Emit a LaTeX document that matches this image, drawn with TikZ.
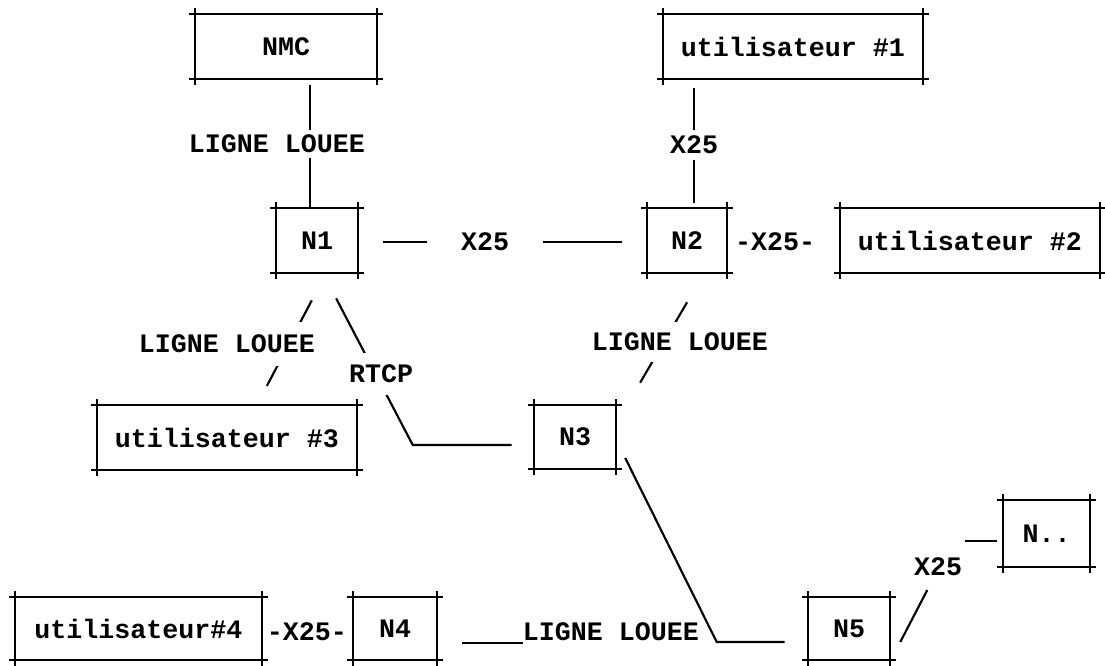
\documentclass[tikz,border=0pt]{standalone}
\usepackage{fontspec}
\setmonofont{Liberation Mono}
\usetikzlibrary{calc}

\begin{document}
\begin{tikzpicture}[x=0.75pt, y=-0.75pt,
    font=\fontsize{20}{24}\selectfont\ttfamily\bfseries,
    frame/.style={line width=2.2pt},
    link/.style={line width=1.6pt},
    gap/.style={fill=white, inner xsep=1pt, inner ysep=0pt}]
  \useasboundingbox (0,0) rectangle (1105,665);
  % box with crossed corners: name, left, top, right, bottom, text
  \newcommand{\tbox}[6]{%
    \draw[frame] (#2-6,#3) -- (#4+6,#3) (#2-6,#5) -- (#4+6,#5)
                 (#2,#3-6) -- (#2,#5+6) (#4,#3-6) -- (#4,#5+6);
    \node[inner sep=0pt, minimum width={(#4-#2)*0.75pt},
          minimum height={(#5-#3)*0.75pt}] (#1) at ({(#2+#4)/2},{(#3+#5)/2}) {#6};}
  \tbox{nmc}{195}{14}{377}{79}{NMC}
  \tbox{ua}{663}{14}{923}{79}{utilisateur \#1}
  \tbox{n1}{276}{208}{358}{273}{N1}
  \tbox{n2}{647}{208}{727}{273}{N2}
  \tbox{ub}{840}{208}{1100}{273}{utilisateur \#2}
  \tbox{uc}{97}{405}{357}{470}{utilisateur \#3}
  \tbox{n3}{534}{405}{616}{469}{N3}
  \tbox{nx}{1003}{500}{1090}{567}{N..}
  \tbox{ud}{15}{597}{262}{660}{utilisateur\#4}
  \tbox{n4}{353}{597}{437}{660}{N4}
  \tbox{n5}{808}{597}{890}{660}{N5}

  % labels
  \node[inner sep=0pt, minimum height=21pt] (lnmc) at (277,144) {LIGNE LOUEE};
  \node[inner sep=0pt, minimum height=22.5pt] (lua) at (694,145) {X25};
  \node[inner sep=0pt, minimum width=87pt] (ln12) at (485,242) {X25};
  \node (lub) at (775,242) {-X25-};
  \node (lud) at (307,632) {-X25-};
  \node[inner sep=0pt] (ln45) at (611,632) {LIGNE LOUEE};
  \node (lnx) at (938,567) {X25};

  % straight links
  \coordinate (va) at ($(n1.north)+(-7,0)$);
  \draw[link, shorten <=4.5pt] (va |- nmc.south) -- (va |- lnmc.north);
  \draw[link] (va |- lnmc.south) -- (va);
  \draw[link, shorten <=6.75pt] (lua |- ua.south) -- (lua.north);
  \draw[link, shorten >=3.75pt] (lua.south) -- (lua |- n2.north);
  \draw[link, shorten <=18.75pt] (n1.east |- ln12) -- (ln12.west);
  \draw[link, shorten >=18.75pt] (ln12.east) -- (n2.west |- ln12);
  \draw[link, shorten <=18.75pt] ($(n4.east |- ln45.south)+(0,2)$) -- ($(ln45.south west)+(0,2)$);

  % slanted links, cut by the labels laid over them
  \draw[link, shorten <=22.9pt, shorten >=16pt] ($(n1.south)+(9,0)$) -- ($(uc.north)+(30,0)$);
  \draw[link, shorten <=21.2pt, shorten >=16.5pt] ($(n1.south)+(6,0)$)
    -- ($(n3.west)+(-121,8)$) -- ($(n3.west)+(0,8)$);
  \draw[link, shorten <=25.2pt, shorten >=19.1pt] ($(n2.south)+(17,0)$) -- ($(n3.north east)+(11,0)$);
  \draw[link, shorten <=15pt, shorten >=17.25pt] ($(n3.east)+(0,3)$)
    -- ($(n5.west)+(-91,13.5)$) -- ($(n5.west)+(0,13.5)$);
  \draw[link] ($(n5.east)+(10,13.5)$) -- ($(n5.east)+(37,-38.5)$);
  \draw[link, shorten >=4.5pt] ($(nx.west)+(-38,7.5)$) -- ($(nx.west)+(0,7.5)$);
  \node[gap, minimum height=33pt] (ln1c) at (227,344) {LIGNE LOUEE};
  \node[gap, minimum height=31.5pt] (lrtcp) at (381,374) {RTCP};
  \node[gap, minimum height=30pt] (ln23) at (680,342) {LIGNE LOUEE};
\end{tikzpicture}
\end{document}
